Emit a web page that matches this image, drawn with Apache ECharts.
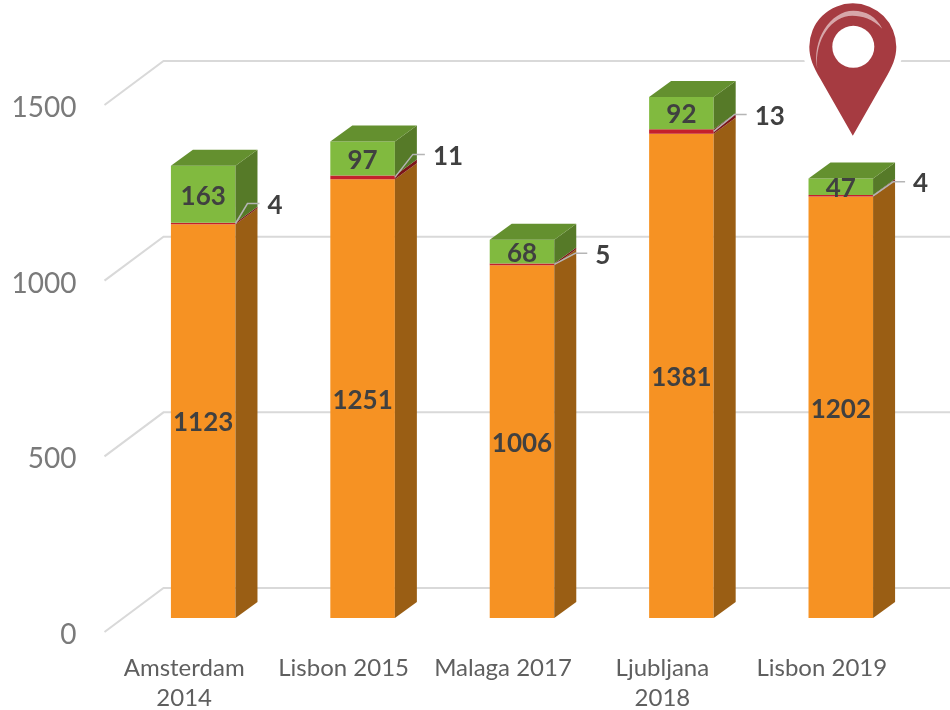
<!DOCTYPE html>
<html>
<head>
<meta charset="utf-8">
<title>Stacked 3D columns</title>
<style>
  html, body { margin: 0; padding: 0; background: #fff; }
  #chart { width: 950px; height: 710px; }
</style>
</head>
<body>
<div id="chart"></div>
<script src="https://cdn.jsdelivr.net/npm/echarts@6/dist/echarts.min.js"></script>
<script>
var categories = ['Amsterdam\n2014', 'Lisbon 2015', 'Malaga 2017', 'Ljubljana\n2018', 'Lisbon 2019'];
var orangeValues = [1123, 1251, 1006, 1381, 1202];
var redValues = [4, 11, 5, 13, 4];
var greenValues = [163, 97, 68, 92, 47];
var yTicks = [0, 500, 1000, 1500];

// leader line shape for each outside label (px)
var leaderRise = [20, 23, 11, 17, 14];
var leaderReach = [12, 18, 21, 21, 20];

var FONT = 'Lato, "Open Sans", sans-serif';
var DEPTH_X = 22, DEPTH_Y = 16;
var WALL_X = 59, WALL_Y = 44;
var BAR_RATIO = 0.405;
var LABEL_DROP = 3; // tick labels sit a little under the end of their gridline

function barBox(api, i, base, value) {
  var p0 = api.coord([i, base]);
  var p1 = api.coord([i, base + value]);
  var w = api.size([1, 0])[0] * BAR_RATIO;
  return { l: p0[0] - w / 2, r: p0[0] + w / 2, y0: p0[1], y1: p1[1] };
}

function poly(points, fill) {
  return { type: 'polygon', shape: { points: points }, style: { fill: fill } };
}

function segment(values, bases, front, side, top, showLabel) {
  return function (params, api) {
    var i = params.dataIndex;
    var b = barBox(api, i, bases[i], values[i]);
    var kids = [
      poly([[b.l, b.y0], [b.r, b.y0], [b.r, b.y1], [b.l, b.y1]], front),
      poly([[b.r, b.y0], [b.r + DEPTH_X, b.y0 - DEPTH_Y], [b.r + DEPTH_X, b.y1 - DEPTH_Y], [b.r, b.y1]], side)
    ];
    if (top) {
      kids.push(poly([[b.l, b.y1], [b.r, b.y1], [b.r + DEPTH_X, b.y1 - DEPTH_Y], [b.l + DEPTH_X, b.y1 - DEPTH_Y]], top));
    }
    if (showLabel) {
      kids.push({
        type: 'text',
        style: {
          x: (b.l + b.r) / 2,
          y: (b.y0 + b.y1) / 2 + 2,
          text: String(values[i]),
          fill: '#404040',
          font: 'bold 26px ' + FONT,
          textAlign: 'center',
          textVerticalAlign: 'middle'
        }
      });
    }
    return { type: 'group', children: kids };
  };
}

function rows(values) {
  return values.map(function (v, i) { return [i, v]; });
}

var redBase = orangeValues.slice();
var greenBase = orangeValues.map(function (v, i) { return v + redValues[i]; });
var zeroBase = orangeValues.map(function () { return 0; });

var myChart = echarts.init(document.getElementById('chart'), null, { renderer: 'canvas' });

var option = {
  animation: false,
  backgroundColor: '#ffffff',
  grid: [
    { left: 104.5, width: 797, top: 105 + LABEL_DROP, height: 527, outerBoundsMode: 'none' },
    { left: 123.5, width: 797, top: 92, height: 526, outerBoundsMode: 'none' }
  ],
  xAxis: [
    {
      gridIndex: 0,
      type: 'category',
      data: categories,
      axisLine: { show: false },
      axisTick: { show: false },
      axisLabel: { interval: 0, margin: 21 - LABEL_DROP, color: '#5f5f5f', fontSize: 24, lineHeight: 30, fontFamily: FONT }
    },
    { gridIndex: 1, type: 'category', data: categories, show: false }
  ],
  yAxis: [
    {
      gridIndex: 0,
      type: 'value',
      min: 0,
      max: 1500,
      interval: 500,
      axisLine: { show: false },
      axisTick: { show: false },
      splitLine: { show: false },
      axisLabel: {
        margin: 28,
        color: '#7a7a7a',
        fontSize: 28,
        fontFamily: FONT,
        formatter: function (v) { return String(v); }
      }
    },
    { gridIndex: 1, type: 'value', min: 0, max: 1500, interval: 500, show: false, splitLine: { show: false } }
  ],
  series: [
    {
      name: 'gridlines',
      type: 'custom',
      xAxisIndex: 0,
      yAxisIndex: 0,
      z: 1,
      silent: true,
      clip: false,
      data: yTicks.map(function (t) { return [0, t]; }),
      renderItem: function (params, api) {
        var y = api.coord([0, api.value(1)])[1] - LABEL_DROP;
        var x = params.coordSys.x;
        return {
          type: 'polyline',
          shape: { points: [[x, y], [x + WALL_X, y - WALL_Y], [950, y - WALL_Y]] },
          style: { stroke: '#d9d9d9', lineWidth: 2, fill: 'none' }
        };
      }
    },
    {
      name: 'orange',
      type: 'custom',
      xAxisIndex: 1,
      yAxisIndex: 1,
      z: 2,
      clip: false,
      data: rows(orangeValues),
      renderItem: segment(orangeValues, zeroBase, '#f69223', '#9a5e14', null, true)
    },
    {
      name: 'red',
      type: 'custom',
      xAxisIndex: 1,
      yAxisIndex: 1,
      z: 3,
      clip: false,
      data: rows(redValues),
      renderItem: segment(redValues, redBase, '#c4202c', '#7b1418', null, false)
    },
    {
      name: 'green',
      type: 'custom',
      xAxisIndex: 1,
      yAxisIndex: 1,
      z: 4,
      clip: false,
      data: rows(greenValues),
      renderItem: segment(greenValues, greenBase, '#81ba3f', '#567a28', '#64902f', true)
    },
    {
      name: 'redLabels',
      type: 'custom',
      xAxisIndex: 1,
      yAxisIndex: 1,
      z: 5,
      clip: false,
      data: rows(redValues),
      renderItem: function (params, api) {
        var i = params.dataIndex;
        var b = barBox(api, i, redBase[i], redValues[i]);
        var sy = (b.y0 + b.y1) / 2;
        var ey = sy - leaderRise[i];
        var ex = b.r + leaderReach[i];
        return {
          type: 'group',
          children: [
            {
              type: 'polyline',
              shape: { points: [[b.r, sy], [ex, ey], [ex + 12, ey]] },
              style: { stroke: '#b5b5b5', lineWidth: 1.5, fill: 'none' }
            },
            {
              type: 'text',
              style: {
                x: ex + 20,
                y: ey + 2,
                text: String(redValues[i]),
                fill: '#404040',
                font: 'bold 26px ' + FONT,
                textAlign: 'left',
                textVerticalAlign: 'middle'
              }
            }
          ]
        };
      }
    },
    {
      // location pin above the last column, tip at [x, y] of the anchor
      name: 'pin',
      type: 'custom',
      xAxisIndex: 1,
      yAxisIndex: 1,
      z: 6,
      silent: true,
      clip: false,
      data: [[4, 1375]],
      renderItem: function (params, api) {
        var tip = api.coord([api.value(0), api.value(1)]);
        return {
          type: 'group',
          x: tip[0] + 12,
          y: tip[1],
          children: [
            {
              type: 'path',
              shape: { pathData: 'M0 0 L-32.5 -57 C-39.5 -69 -43.5 -78 -43.5 -89 A43.5 43.5 0 0 1 43.5 -89 C43.5 -78 39.5 -69 32.5 -57 Z' },
              style: { fill: '#a63b41', stroke: '#ffffff', lineWidth: 14, strokeFirst: true }
            },
            {
              type: 'path',
              shape: { pathData: 'M-35.5 -67 C-41.5 -95 -22.5 -125 0.5 -125 C13.5 -125 23.5 -119 29.5 -107 C19.5 -117 9.5 -120 -0.5 -120 C-20.5 -120 -38.5 -97 -35.5 -67 Z' },
              style: { fill: 'rgba(255,255,255,0.55)' }
            },
            { type: 'circle', shape: { cx: 0.5, cy: -89, r: 21 }, style: { fill: '#ffffff' } }
          ]
        };
      }
    }
  ]
};

option && myChart.setOption(option);
</script>
</body>
</html>
